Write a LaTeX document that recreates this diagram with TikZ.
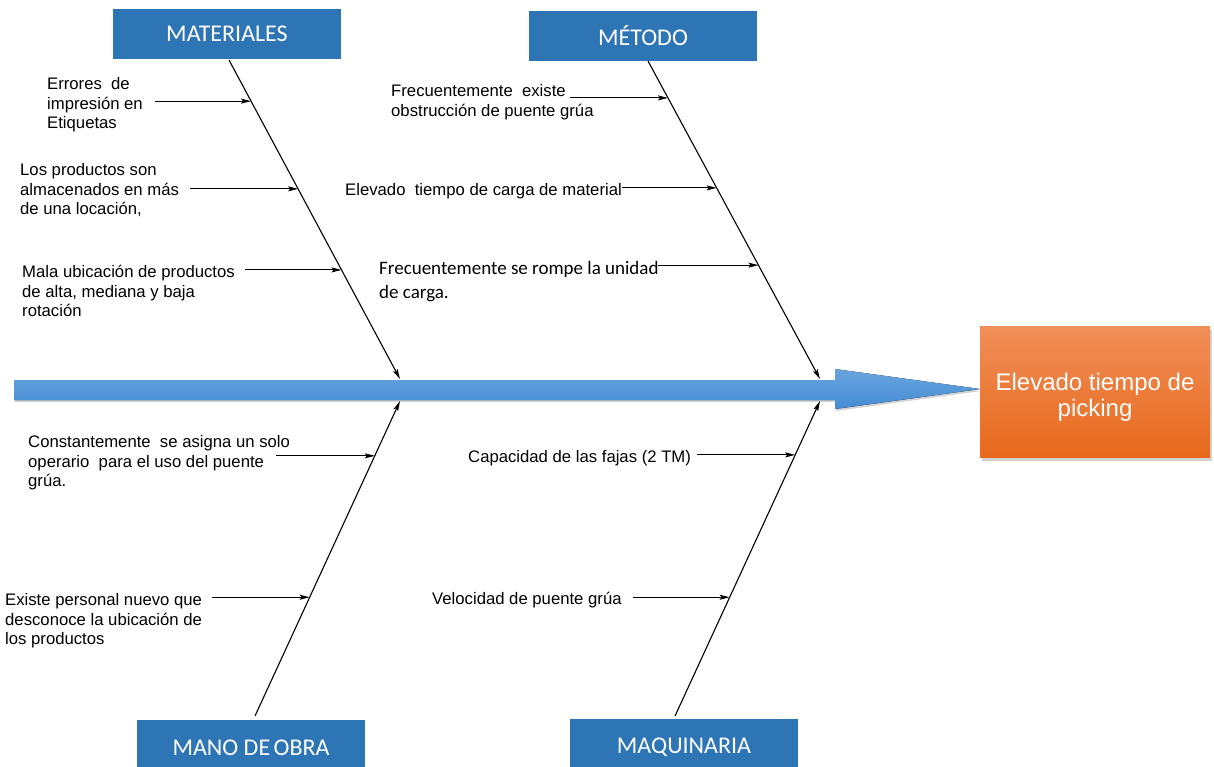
\documentclass[tikz,border=0pt]{standalone}
\usepackage{fontspec}
\setmainfont{Liberation Sans}
\newfontfamily\calibri{Carlito}
\usetikzlibrary{arrows.meta,shadows}
\definecolor{catblue}{RGB}{46,117,182}
\definecolor{spinetop}{RGB}{104,164,222}
\definecolor{spinebot}{RGB}{70,140,212}
\definecolor{efftop}{RGB}{241,142,88}
\definecolor{effbot}{RGB}{232,105,28}
\begin{document}
\begin{tikzpicture}[x=1pt,y=-1pt]
\tikzstyle{category} = [fill=catblue, text=white, inner sep=0, minimum width=228, minimum height=50, font=\calibri\fontsize{24}{28}\selectfont]
\tikzstyle{effect} = [top color=efftop, bottom color=effbot, text=white, align=center, minimum width=230, minimum height=131, inner sep=0, text height=54pt, font=\fontsize{24}{26.5}\selectfont, drop shadow={shadow xshift=2pt, shadow yshift=-3pt, opacity=0.35}]
\tikzstyle{causetext} = [anchor=north west, align=left, inner sep=0, font=\fontsize{16.7}{19.7}\selectfont]
\tikzstyle{bone} = [-{Stealth[length=10pt,width=5pt,inset=2pt]}, line width=1.1pt]
\tikzstyle{cause} = [-{Stealth[length=10pt,width=5pt,inset=2pt]}, line width=1pt]

\useasboundingbox (0,0) rectangle (1214,766);

% espina central
\fill[top color=spinetop, bottom color=spinebot, drop shadow={shadow xshift=1pt, shadow yshift=-2pt, opacity=0.35}]
	(14,380) -- (835,380) -- (835,369) -- (980,389) -- (835,409) -- (835,400) -- (14,400) -- cycle;

\node [category] (mat) at (227,34) {MATERIALES};
\node [category] (met) at (643,36) {MÉTODO};
\node [category, minimum height=56] (mano) at (251,748) {MANO DE\hspace{-2pt} OBRA};
\node [category, minimum height=56] (maq) at (684,747) {MAQUINARIA};
\node [effect] (efecto) at (1095,392) {Elevado tiempo de\\picking};

\coordinate (matTop) at (229,60);
\coordinate (matEnd) at (400,379);
\coordinate (metTop) at (648,61);
\coordinate (metEnd) at (820,379);
\coordinate (manoTop) at (255,716);
\coordinate (manoEnd) at (400,401);
\coordinate (maqTop) at (675,716);
\coordinate (maqEnd) at (820,401);

\foreach \b in {mat,met,mano,maq}
		{
			\draw [bone] (\b Top) -- (\b End);
		}

\node [causetext] (t1) at (47,77) {Errores\ \ de\\impresión en\\Etiquetas};
\node [causetext] (t2) at (20,163) {Los productos son\\almacenados en más\\de una locación,};
\node [causetext] (t3) at (22,265) {Mala ubicación de productos\\de alta, mediana y baja\\rotación};
\node [causetext] (t4) at (391,84) {Frecuentemente\ \ existe\\obstrucción de puente grúa};
\node [causetext] (t5) at (345,183) {Elevado\ \ tiempo de carga de material};
\node [causetext, font=\calibri\fontsize{19}{24}\selectfont] (t6) at (379,261) {Frecuentemente se rompe la unidad\\de carga.};
\node [causetext] (t7) at (28,435) {Constantemente\ \ se asigna un solo\\operario\ \ para el uso del puente\\grúa.};
\node [causetext] (t8) at (5,593) {Existe personal nuevo que\\desconoce la ubicación de\\los productos};
\node [causetext] (t9) at (468,450) {Capacidad de las fajas (2 TM)};
\node [causetext] (t10) at (432,592) {Velocidad de puente grúa};

\foreach \b/\p/\x [count=\i] in {mat/0.129/155, mat/0.404/190, mat/0.658/245,
	met/0.116/570, met/0.399/622, met/0.642/658,
	mano/0.826/276, mano/0.377/212, maq/0.829/697, maq/0.377/633}
{
	\path (\b Top) -- (\b End) coordinate[pos=\p] (c\i);
	\coordinate (s\i) at (\x,0 |- c\i);
	\draw [cause] (s\i) -- (c\i);
}
\end{tikzpicture}
\end{document}
